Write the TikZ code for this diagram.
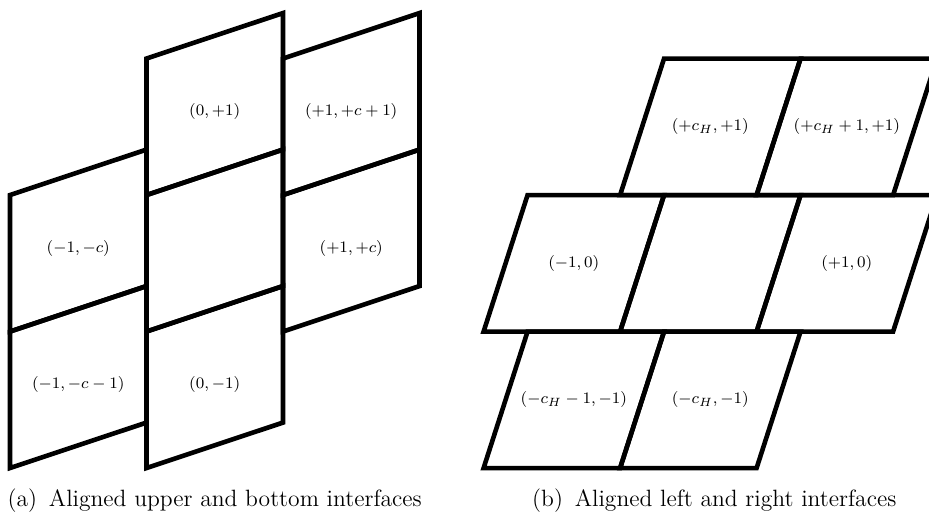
\documentclass[tikz,border=0pt]{standalone}
\usepackage{amsmath}
\usepackage{tikz}

\begin{document}
\begin{tikzpicture}[x=2.4cm, y=2.4cm,
        cell/.style={draw=black, line width=2.3pt},
        tag/.style={font=\footnotesize, inner sep=0pt},
        subcap/.style={font=\fontsize{11.8}{14}\selectfont, anchor=base, inner sep=0pt}
    ]
        \clip (-0.073,-0.366) rectangle (6.733,3.429);

        % (a) Left column
        \draw[cell] (0,0) -- (1,0.333) -- (1,1.333) -- (0,1) -- cycle;
        \draw[cell] (0,1) -- (1,1.333) -- (1,2.333) -- (0,2) -- cycle;

        % (a) Middle column
        \draw[cell] (1,0) -- (2,0.333) -- (2,1.333) -- (1,1) -- cycle;
        \draw[cell] (1,1) -- (2,1.333) -- (2,2.333) -- (1,2) -- cycle;
        \draw[cell] (1,2) -- (2,2.333) -- (2,3.333) -- (1,3) -- cycle;

        % (a) Right column
        \draw[cell] (2,1) -- (3,1.333) -- (3,2.333) -- (2,2) -- cycle;
        \draw[cell] (2,2) -- (3,2.333) -- (3,3.333) -- (2,3) -- cycle;

        % (a) Labels
        \node[tag] (aLeftBot) at (0.5,0.61) {$(-1,-c-1)$};
        \node[tag] (aLeftTop) at (0.5,1.61) {$(-1,-c)$};
        \node[tag] (aMidBot) at (1.5,0.61) {$(0,-1)$};
        \node[tag] (aMidTop) at (1.5,2.61) {$(0,+1)$};
        \node[tag] (aRightBot) at (2.5,1.61) {$(+1,+c)$};
        \node[tag] (aRightTop) at (2.5,2.61) {$(+1,+c+1)$};

        % (b) Bottom row
        \draw[cell] (3.47,0) -- (4.47,0) -- (4.792,1) -- (3.792,1) -- cycle;
        \draw[cell] (4.47,0) -- (5.47,0) -- (5.792,1) -- (4.792,1) -- cycle;

        % (b) Middle row
        \draw[cell] (3.47,1) -- (4.47,1) -- (4.792,2) -- (3.792,2) -- cycle;
        \draw[cell] (4.47,1) -- (5.47,1) -- (5.792,2) -- (4.792,2) -- cycle;
        \draw[cell] (5.47,1) -- (6.47,1) -- (6.792,2) -- (5.792,2) -- cycle;

        % (b) Top row
        \draw[cell] (4.47,2) -- (5.47,2) -- (5.792,3) -- (4.792,3) -- cycle;
        \draw[cell] (5.47,2) -- (6.47,2) -- (6.792,3) -- (5.792,3) -- cycle;

        % (b) Labels
        \node[tag] (bBotLeft) at (4.131,0.5) {$(-c_H-1,-1)$};
        \node[tag] (bBotRight) at (5.131,0.5) {$(-c_H,-1)$};
        \node[tag] (bMidLeft) at (4.131,1.5) {$(-1,0)$};
        \node[tag] (bMidRight) at (6.131,1.5) {$(+1,0)$};
        \node[tag] (bTopLeft) at (5.131,2.5) {$(+c_H,+1)$};
        \node[tag] (bTopRight) at (6.131,2.5) {$(+c_H+1,+1)$};

        % Captions
        \node[subcap] (capA) at (1.5,-0.283) {(a)\enspace Aligned upper and bottom interfaces};
        \node[subcap] (capB) at (5.16,-0.283) {(b)\enspace Aligned left and right interfaces};
    \end{tikzpicture}
\end{document}
